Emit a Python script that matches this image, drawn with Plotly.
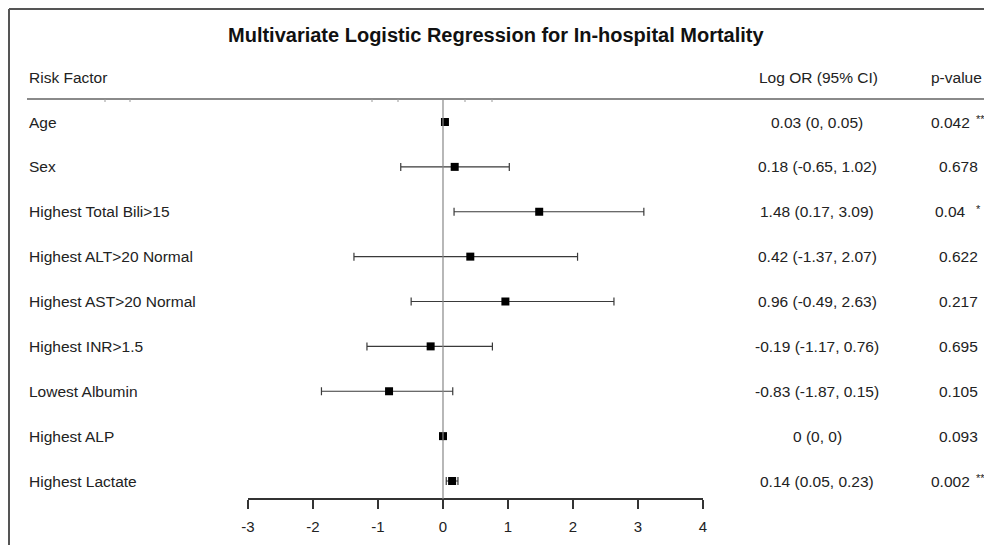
import plotly.graph_objects as go

factors = ["Age", "Sex", "Highest Total Bili>15", "Highest ALT>20 Normal",
           "Highest AST>20 Normal", "Highest INR>1.5", "Lowest Albumin",
           "Highest ALP", "Highest Lactate"]
log_or = [0.03, 0.18, 1.48, 0.42, 0.96, -0.19, -0.83, 0.0, 0.14]
ci_low = [0.0, -0.65, 0.17, -1.37, -0.49, -1.17, -1.87, 0.0, 0.05]
ci_high = [0.05, 1.02, 3.09, 2.07, 2.63, 0.76, 0.15, 0.0, 0.23]
ci_text = ["0.03 (0, 0.05)", "0.18 (-0.65, 1.02)", "1.48 (0.17, 3.09)",
           "0.42 (-1.37, 2.07)", "0.96 (-0.49, 2.63)", "-0.19 (-1.17, 0.76)",
           "-0.83 (-1.87, 0.15)", "0 (0, 0)", "0.14 (0.05, 0.23)"]
p_values = ["0.042", "0.678", "0.04", "0.622", "0.217", "0.695", "0.105", "0.093", "0.002"]
signif = ["**", "", "*", "", "", "", "", "", "**"]
x_ticks = [-3, -2, -1, 0, 1, 2, 3, 4]

# page body has an 8px margin; figure sized to fit the 992x545 window
OFF = 8
W, H = 992 - OFF, 545 - OFF
FONT = "Liberation Sans, Arial, sans-serif"
FS = 15.5
rows = list(range(len(factors)))

def px(p):  # window pixel -> paper x
    return (p - OFF) / W
def py(p):  # window pixel -> paper y
    return 1 - (p - OFF) / H

row0, rowstep = 122 - OFF, 44.875
y_top = -row0 / rowstep
y_bot = (H - row0) / rowstep

fig = go.Figure()
fig.add_trace(go.Scatter(
    x=log_or, y=rows, mode="markers",
    marker=dict(symbol="square", size=8, color="black"),
    error_x=dict(type="data", symmetric=False,
                 array=[h - e for h, e in zip(ci_high, log_or)],
                 arrayminus=[e - l for e, l in zip(log_or, ci_low)],
                 color="#3a3a3a", thickness=1.2, width=4),
    showlegend=False, hoverinfo="skip", cliponaxis=False,
))

fig.update_layout(
    width=W, height=H, margin=dict(l=0, r=0, t=0, b=0, autoexpand=False),
    paper_bgcolor="white", plot_bgcolor="white",
    font=dict(family=FONT, size=FS, color="#222222"),
    xaxis=dict(domain=[px(248), px(703)], range=[-3, 4], tickvals=x_ticks,
               ticktext=[str(v) for v in x_ticks], automargin=False,
               anchor="free", position=py(499), showline=True, linecolor="#333333",
               linewidth=1.5, ticks="outside", ticklen=9, tickwidth=1.5, tickcolor="#333333",
               ticklabelstandoff=5,
               showgrid=False, zeroline=False, tickfont=dict(size=15, color="#222222")),
    yaxis=dict(domain=[0, 1], range=[y_bot, y_top], visible=False, showgrid=False,
               automargin=False),
)

shapes = []
# zero reference line
shapes.append(dict(type="line", xref="x", yref="paper", x0=0, x1=0,
                   y0=py(99), y1=py(499), line=dict(color="#888888", width=1.2)))
# header rule
shapes.append(dict(type="line", xref="paper", yref="paper", x0=px(27), x1=1,
                   y0=py(99), y1=py(99), line=dict(color="#8a8a8a", width=2)))
for tx in [105, 130, 372, 398, 465, 492]:
    shapes.append(dict(type="line", xref="paper", yref="paper", x0=px(tx), x1=px(tx),
                       y0=py(99), y1=py(102), line=dict(color="#999999", width=1)))
# frame
shapes.append(dict(type="line", xref="paper", yref="paper", x0=px(9), x1=px(9),
                   y0=py(9), y1=0, line=dict(color="#555555", width=2)))
shapes.append(dict(type="line", xref="paper", yref="paper", x0=px(9), x1=1,
                   y0=py(9), y1=py(9), line=dict(color="#555555", width=2)))
fig.update_layout(shapes=shapes)

ann = []
ann.append(dict(text="<b>Multivariate Logistic Regression for In-hospital Mortality</b>",
                xref="paper", yref="paper", x=px(496), y=py(35), showarrow=False,
                xanchor="center", yanchor="middle", font=dict(size=20, color="#111111")))
ann.append(dict(text="Risk Factor", xref="paper", yref="paper", x=px(27), y=py(78),
                showarrow=False, xanchor="left", yanchor="middle"))
ann.append(dict(text="Log OR (95% CI)", xref="paper", yref="paper", x=px(818), y=py(78),
                showarrow=False, xanchor="center", yanchor="middle"))
ann.append(dict(text="p-value", xref="paper", yref="paper", x=px(956), y=py(78),
                showarrow=False, xanchor="center", yanchor="middle"))
for i, name in enumerate(factors):
    ann.append(dict(text=name, xref="paper", yref="y", x=px(27), y=i,
                    showarrow=False, xanchor="left", yanchor="middle"))
    ann.append(dict(text=ci_text[i], xref="paper", yref="y", x=px(817), y=i,
                    showarrow=False, xanchor="center", yanchor="middle"))
    if signif[i]:
        ann.append(dict(text=p_values[i], xref="paper", yref="y", x=px(950), y=i,
                        showarrow=False, xanchor="center", yanchor="middle"))
        ann.append(dict(text=signif[i], xref="paper", yref="y", x=px(974), y=i - 0.06,
                        showarrow=False, xanchor="left", yanchor="middle",
                        font=dict(size=11)))
    else:
        ann.append(dict(text=p_values[i], xref="paper", yref="y", x=px(958), y=i,
                        showarrow=False, xanchor="center", yanchor="middle"))
fig.update_layout(annotations=ann)

fig.write_html("out.html")
